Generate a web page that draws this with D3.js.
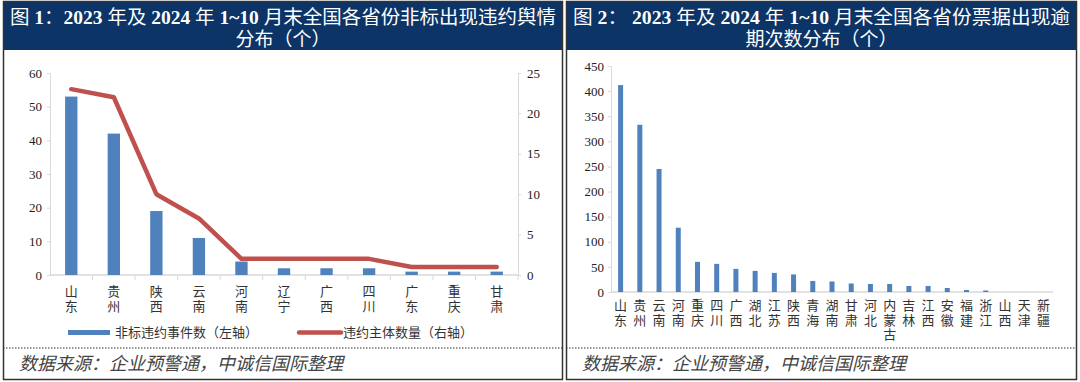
<!DOCTYPE html>
<html>
<head>
<meta charset="utf-8">
<script src="https://cdn.jsdelivr.net/npm/d3@7"></script>
<style>
  body { margin: 0; background: #fff; }
  svg { display: block; }
  text { font-family: "Liberation Serif", "Noto Sans CJK SC", serif; }
</style>
</head>
<body>
<svg id="chart" width="1080" height="382"></svg>
<script>
// chart 1 data
var provinces1 = ["山东", "贵州", "陕西", "云南", "河南", "辽宁", "广西", "四川", "广东", "重庆", "甘肃"];
var events1 = [53, 42, 19, 11, 4, 2, 2, 2, 1, 1, 1];
var entities1 = [23, 22, 10, 7, 2, 2, 2, 2, 1, 1, 1];
var leftTicks1 = [0, 10, 20, 30, 40, 50, 60];
var rightTicks1 = [0, 5, 10, 15, 20, 25];

// chart 2 data
var provinces2 = ["山东", "贵州", "云南", "河南", "重庆", "四川", "广西", "湖北", "江苏", "陕西", "青海", "湖南",
                  "甘肃", "河北", "内蒙古", "吉林", "江西", "安徽", "福建", "浙江", "山西", "天津", "新疆"];
var overdue2 = [412, 333, 245, 128, 60, 56, 46, 42, 38, 35, 22, 21, 17, 16, 16, 12, 12, 8, 4, 3, 0, 0, 0];
var ticks2 = [0, 50, 100, 150, 200, 250, 300, 350, 400, 450];

var svg = d3.select("#chart");
var navy = "#0c3466", blue = "#4f81bd", red = "#c0504d", axisGrey = "#d9d9d9";

// panels and headers; title parts: [text, bold?]
function panel(x0, x1, parts, line2) {
  svg.append("rect").attr("x", x0).attr("y", 2).attr("width", x1 - x0).attr("height", 48).attr("fill", navy);
  var t = svg.append("text").attr("x", (x0 + x1) / 2).attr("y", 24)
    .attr("text-anchor", "middle").attr("fill", "#fff").attr("font-size", 19)
    .attr("textLength", x1 - x0 - 14).attr("lengthAdjust", "spacingAndGlyphs");
  parts.forEach(function (p) {
    t.append("tspan").attr("font-weight", p[1] ? "bold" : "normal").text(p[0]);
  });
  svg.append("text").attr("x", (x0 + x1) / 2).attr("y", 46)
    .attr("text-anchor", "middle").attr("fill", "#fff").attr("font-size", 19)
    .text(line2);
  svg.append("line").attr("x1", x0).attr("x2", x1).attr("y1", 348).attr("y2", 348)
    .attr("stroke", "#333").attr("stroke-dasharray", "1.5,1.5");
  svg.append("text").attr("x", x0 + 16).attr("y", 370)
    .attr("fill", "#444").attr("font-size", 18).attr("font-style", "italic")
    .attr("font-family", "Noto Sans CJK SC")
    .text("数据来源：企业预警通，中诚信国际整理");
  svg.append("rect").attr("x", x0 + 0.5).attr("y", 1.5).attr("width", x1 - x0 - 1).attr("height", 378)
    .attr("fill", "none").attr("stroke", "#333").attr("stroke-width", 1.5);
}
panel(3, 563, [["图 ", false], ["1", true], ["：", false], ["2023", true], [" 年及 ", false], ["2024", true],
  [" 年 ", false], ["1~10", true], [" 月末全国各省份非标出现违约舆情", false]], "分布（个）");
panel(566, 1077, [["图 ", false], ["2", true], ["： ", false], ["2023", true], [" 年及 ", false], ["2024", true],
  [" 年 ", false], ["1~10", true], [" 月末全国各省份票据出现逾", false]], "期次数分布（个）");

// chart 1
var x1 = d3.scaleBand().domain(provinces1).range([50, 518]).paddingInner(0.71).paddingOuter(0.355);
var yL = d3.scaleLinear().domain([0, 60]).range([275, 73]);
var yR = d3.scaleLinear().domain([0, 25]).range([275, 73]);
var g1 = svg.append("g");

g1.append("g").attr("transform", "translate(50,0)")
  .call(d3.axisLeft(yL).tickValues(leftTicks1).tickSize(3).tickPadding(5))
  .call(function (g) {
    g.select(".domain").attr("stroke", axisGrey);
    g.selectAll(".tick line").attr("stroke", axisGrey);
    g.selectAll("text").attr("font-size", 13).attr("fill", "#222").attr("font-family", "Liberation Serif");
  });
g1.append("g").attr("transform", "translate(518,0)")
  .call(d3.axisRight(yR).tickValues(rightTicks1).tickSize(3).tickPadding(6))
  .call(function (g) {
    g.select(".domain").attr("stroke", axisGrey);
    g.selectAll(".tick line").attr("stroke", axisGrey);
    g.selectAll("text").attr("font-size", 13).attr("fill", "#222").attr("font-family", "Liberation Serif");
  });
// x axis line with separators between categories
g1.append("line").attr("x1", 50).attr("x2", 518).attr("y1", 275).attr("y2", 275).attr("stroke", axisGrey).attr("stroke-width", 1.5);
g1.selectAll(".sep").data(provinces1).enter().append("line")
  .attr("x1", function (d) { return x1(d) - x1.step() * 0.355 + x1.step(); })
  .attr("x2", function (d) { return x1(d) - x1.step() * 0.355 + x1.step(); })
  .attr("y1", 275).attr("y2", 280).attr("stroke", axisGrey);

g1.selectAll(".bar").data(events1).enter().append("rect")
  .attr("x", function (d, i) { return x1(provinces1[i]); })
  .attr("y", function (d) { return yL(d); })
  .attr("width", x1.bandwidth())
  .attr("height", function (d) { return 275 - yL(d); })
  .attr("fill", blue);

g1.append("path").datum(entities1)
  .attr("d", d3.line()
    .x(function (d, i) { return x1(provinces1[i]) + x1.bandwidth() / 2; })
    .y(function (d) { return yR(d); }))
  .attr("fill", "none").attr("stroke", red).attr("stroke-width", 4.5)
  .attr("stroke-linejoin", "round").attr("stroke-linecap", "round");

provinces1.forEach(function (p) {
  var cx = x1(p) + x1.bandwidth() / 2;
  p.split("").forEach(function (c, k) {
    g1.append("text").attr("x", cx).attr("y", 296 + k * 14.5).attr("text-anchor", "middle")
      .attr("font-size", 13).attr("fill", "#333").attr("font-family", "Noto Sans CJK SC").text(c);
  });
});

// legend chart 1
g1.append("rect").attr("x", 68).attr("y", 330).attr("width", 42).attr("height", 5).attr("fill", blue);
g1.append("text").attr("x", 115).attr("y", 337).attr("font-size", 13).attr("fill", "#333")
  .attr("font-family", "Noto Sans CJK SC").text("非标违约事件数（左轴）");
g1.append("line").attr("x1", 299).attr("x2", 341).attr("y1", 332.5).attr("y2", 332.5)
  .attr("stroke", red).attr("stroke-width", 4.5).attr("stroke-linecap", "round");
g1.append("text").attr("x", 343).attr("y", 337).attr("font-size", 13).attr("fill", "#333")
  .attr("font-family", "Noto Sans CJK SC").text("违约主体数量（右轴）");

// chart 2
var x2 = d3.scaleBand().domain(provinces2).range([611, 1053]).paddingInner(0.74).paddingOuter(0.37);
var y2 = d3.scaleLinear().domain([0, 450]).range([292, 66]);
var g2 = svg.append("g");

g2.append("g").attr("transform", "translate(611,0)")
  .call(d3.axisLeft(y2).tickValues(ticks2).tickSize(3).tickPadding(4))
  .call(function (g) {
    g.select(".domain").attr("stroke", axisGrey);
    g.selectAll(".tick line").attr("stroke", axisGrey);
    g.selectAll("text").attr("font-size", 13).attr("fill", "#222").attr("font-family", "Liberation Serif");
  });
g2.append("line").attr("x1", 611).attr("x2", 1053).attr("y1", 292).attr("y2", 292).attr("stroke", axisGrey).attr("stroke-width", 1.5);

g2.selectAll(".bar").data(overdue2).enter().append("rect")
  .attr("x", function (d, i) { return x2(provinces2[i]); })
  .attr("y", function (d) { return y2(d); })
  .attr("width", x2.bandwidth())
  .attr("height", function (d) { return 292 - y2(d); })
  .attr("fill", blue);

provinces2.forEach(function (p) {
  var cx = x2(p) + x2.bandwidth() / 2;
  p.split("").forEach(function (c, k) {
    g2.append("text").attr("x", cx).attr("y", 310 + k * 14.5).attr("text-anchor", "middle")
      .attr("font-size", 13).attr("fill", "#333").attr("font-family", "Noto Sans CJK SC").text(c);
  });
});
</script>
</body>
</html>
